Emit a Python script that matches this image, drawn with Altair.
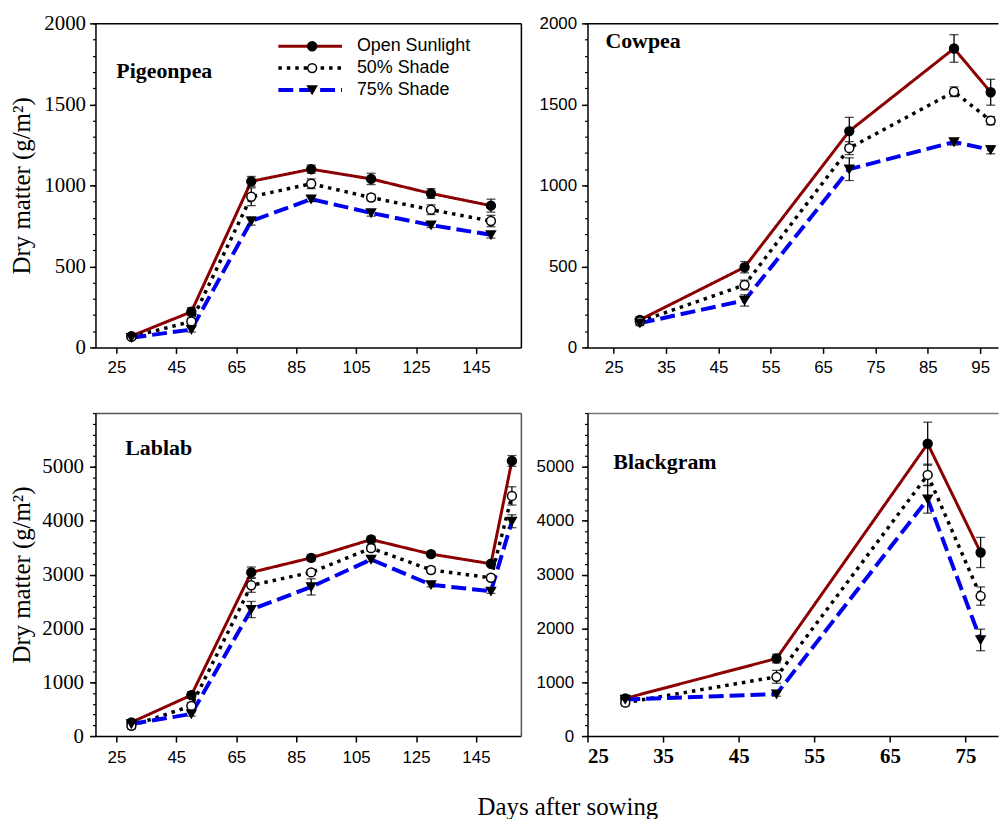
import altair as alt
import pandas as pd

# ---------------- data ----------------
series = ["Open Sunlight", "50% Shade", "75% Shade"]
marker_keys = ["Open Sunlight marker", "50% Shade marker", "75% Shade marker"]
line_colors = ["#8b0000", "#000000", "#0000ee"]
line_widths = [3, 4, 3]
dash_patterns = [[1, 0], [3.5, 5], [15, 6]]
marker_shapes = ["circle", "circle", "triangle-down"]
marker_fills = ["black", "white", "black"]
marker_strokes = ["black", "black", "black"]

pigeonpea_days = [30, 50, 70, 90, 110, 130, 150]
pigeonpea_open = [70, 220, 1025, 1100, 1040, 950, 875]
pigeonpea_open_err = [15, 25, 30, 25, 35, 30, 40]
pigeonpea_s50 = [65, 160, 930, 1010, 925, 850, 780]
pigeonpea_s50_err = [10, 20, 55, 30, 20, 30, 35]
pigeonpea_s75 = [60, 110, 780, 915, 830, 755, 695]
pigeonpea_s75_err = [10, 15, 25, 15, 20, 15, 20]

cowpea_days = [30, 50, 70, 90, 97]
cowpea_open = [170, 495, 1335, 1845, 1575]
cowpea_open_err = [20, 35, 85, 85, 80]
cowpea_s50 = [160, 385, 1230, 1578, 1400]
cowpea_s50_err = [15, 30, 40, 30, 25]
cowpea_s75 = [150, 290, 1100, 1268, 1220]
cowpea_s75_err = [15, 35, 70, 20, 25]

lablab_days = [30, 50, 70, 90, 110, 130, 150, 157]
lablab_open = [255, 760, 3040, 3310, 3650, 3380, 3200, 5110]
lablab_open_err = [40, 60, 100, 60, 60, 50, 40, 100]
lablab_s50 = [190, 560, 2800, 3040, 3490, 3085, 2940, 4460]
lablab_s50_err = [60, 60, 130, 50, 60, 60, 50, 170]
lablab_s75 = [225, 410, 2350, 2770, 3280, 2810, 2690, 3990]
lablab_s75_err = [30, 40, 150, 150, 40, 40, 40, 120]

blackgram_days = [30, 50, 70, 77]
blackgram_open = [700, 1440, 5430, 3410]
blackgram_open_err = [50, 80, 400, 280]
blackgram_s50 = [620, 1100, 4850, 2600]
blackgram_s50_err = [60, 120, 200, 170]
blackgram_s75 = [680, 780, 4400, 1785]
blackgram_s75_err = [40, 40, 260, 200]


def make_df(days, vals, errs):
    rows = []
    for name, key, v, e in zip(series, marker_keys, vals, errs):
        for d, y, s in zip(days, v, e):
            rows.append({"Day": d, "Treatment": name, "Marker": key,
                         "Value": y, "Lo": y - s, "Hi": y + s})
    return pd.DataFrame(rows)


pigeonpea_df = make_df(pigeonpea_days, [pigeonpea_open, pigeonpea_s50, pigeonpea_s75],
                       [pigeonpea_open_err, pigeonpea_s50_err, pigeonpea_s75_err])
cowpea_df = make_df(cowpea_days, [cowpea_open, cowpea_s50, cowpea_s75],
                    [cowpea_open_err, cowpea_s50_err, cowpea_s75_err])
lablab_df = make_df(lablab_days, [lablab_open, lablab_s50, lablab_s75],
                    [lablab_open_err, lablab_s50_err, lablab_s75_err])
blackgram_df = make_df(blackgram_days, [blackgram_open, blackgram_s50, blackgram_s75],
                       [blackgram_open_err, blackgram_s50_err, blackgram_s75_err])

SERIF = "Liberation Serif"
SANS = "Liberation Sans"


def panel(df, name, xdom, xticks, ydom, yticks, yminor, w, h,
          ylab_font, ylab_size, ylab_pad, xlab_font, xlab_size, xlab_weight, xlab_pad,
          ytitle, frame_color, right_frame, show_legend, tdx, tdy):
    base = alt.Chart(df)
    xs = alt.Scale(domain=xdom, nice=False, zero=False)
    ys = alt.Scale(domain=ydom, nice=False, zero=False)

    # frame (top border) + minor y ticks
    guide = base.mark_point(opacity=0).encode(
        x=alt.X("Day:Q", scale=xs,
                axis=alt.Axis(orient="top", labels=False, ticks=False, domain=True,
                              domainColor=frame_color, domainWidth=1.5, title=None, grid=False)),
        y=alt.Y("Value:Q", scale=ys,
                axis=alt.Axis(orient="left", values=yminor, labels=False, domain=False,
                              tickSize=3, tickWidth=1.2, title=None, grid=False)),
    )
    layers = [guide]
    if right_frame:
        rframe = base.mark_point(opacity=0).encode(
            x=alt.X("Day:Q", scale=xs, axis=None),
            y=alt.Y("Value:Q", scale=ys,
                    axis=alt.Axis(orient="right", labels=False, ticks=False, domain=True,
                                  domainColor=frame_color, domainWidth=1.5, title=None, grid=False)),
        )
        layers.append(rframe)

    if ytitle:
        yaxis = alt.Axis(orient="left", values=yticks, format="d", labelFont=ylab_font,
                         labelFontSize=ylab_size, labelPadding=ylab_pad, tickSize=6,
                         title=ytitle, titleFont=SERIF, titleFontSize=25,
                         titleFontWeight="normal", titlePadding=11,
                         minExtent=50, maxExtent=50, grid=False)
    else:
        yaxis = alt.Axis(orient="left", values=yticks, format="d", labelFont=ylab_font,
                         labelFontSize=ylab_size, labelPadding=ylab_pad, tickSize=6,
                         title=None, grid=False)
    xaxis = alt.Axis(orient="bottom", values=xticks, format="d", labelFont=xlab_font,
                     labelFontSize=xlab_size, labelFontWeight=xlab_weight,
                     labelPadding=xlab_pad, tickSize=6, title=None, grid=False)

    if show_legend:
        leg_line = alt.Legend(orient="none", legendX=182, legendY=14, title=None,
                              symbolType="stroke", symbolSize=4096, symbolStrokeWidth=4,
                              labelFont=SANS, labelFontSize=18, labelOffset=13,
                              labelColor="black", rowPadding=4, padding=0, clipHeight=18)
        leg_pt = alt.Legend(orient="none", legendX=209, legendY=14, title=None,
                            symbolSize=80, symbolStrokeWidth=1.5,
                            labelFont=SANS, labelFontSize=18, labelExpr="''",
                            rowPadding=4, padding=0, clipHeight=18)
    else:
        leg_line = None
        leg_pt = None

    X = alt.X("Day:Q", scale=xs, axis=None)
    line = base.mark_line().encode(
        x=X,
        y=alt.Y("Value:Q", scale=ys, axis=None),
        color=alt.Color("Treatment:N", scale=alt.Scale(domain=series, range=line_colors),
                        legend=leg_line),
        strokeDash=alt.StrokeDash("Treatment:N",
                                  scale=alt.Scale(domain=series, range=dash_patterns),
                                  legend=leg_line),
        strokeWidth=alt.StrokeWidth("Treatment:N",
                                    scale=alt.Scale(domain=series, range=line_widths),
                                    legend=None),
    )
    bars = base.mark_rule(color="black", strokeWidth=1.3).encode(
        x=alt.X("Day:Q", scale=xs, axis=xaxis),
        y=alt.Y("Lo:Q", scale=ys, axis=yaxis),
        y2="Hi:Q",
    )
    cap_lo = base.mark_tick(orient="horizontal", color="black", size=9, thickness=1.3).encode(
        x=X, y=alt.Y("Lo:Q", scale=ys, axis=None))
    cap_hi = base.mark_tick(orient="horizontal", color="black", size=9, thickness=1.3).encode(
        x=X, y=alt.Y("Hi:Q", scale=ys, axis=None))
    pts = base.mark_point(filled=True, size=80, strokeWidth=1.5, opacity=1).encode(
        x=X,
        y=alt.Y("Value:Q", scale=ys, axis=None),
        shape=alt.Shape("Marker:N", scale=alt.Scale(domain=marker_keys, range=marker_shapes),
                        legend=leg_pt),
        fill=alt.Fill("Marker:N", scale=alt.Scale(domain=marker_keys, range=marker_fills),
                      legend=leg_pt),
        stroke=alt.Stroke("Marker:N", scale=alt.Scale(domain=marker_keys, range=marker_strokes),
                          legend=leg_pt),
    )
    layers += [line, bars, cap_lo, cap_hi, pts]
    return alt.layer(*layers).resolve_axis(x="independent", y="independent").properties(
        width=w, height=h,
        title=alt.TitleParams(name, anchor="start", frame="group", orient="none", offset=0,
                              dx=tdx, dy=tdy, font=SERIF, fontSize=22, fontWeight="bold",
                              color="black", baseline="alphabetic"),
    )


p1 = panel(pigeonpea_df, "Pigeonpea", [18, 160], [25, 45, 65, 85, 105, 125, 145],
           [0, 2000], [0, 500, 1000, 1500, 2000], list(range(0, 2001, 100)), 428, 326,
           SERIF, 21, 4, SANS, 17, "normal", 6,
           "Dry matter (g/m²)", "black", True, True, 21, 55)
p2 = panel(cowpea_df, "Cowpea", [20, 98.4], [25, 35, 45, 55, 65, 75, 85, 95],
           [0, 2000], [0, 500, 1000, 1500, 2000], list(range(0, 2001, 100)), 413, 326,
           SANS, 17, 5, SANS, 17, "normal", 6,
           None, "black", False, False, 18, 25)
p3 = panel(lablab_df, "Lablab", [18, 160], [25, 45, 65, 85, 105, 125, 145],
           [0, 6000], [0, 1000, 2000, 3000, 4000, 5000], list(range(0, 6001, 200)), 428, 325,
           SERIF, 21, 6, SANS, 17, "normal", 8,
           "Dry matter (g/m²)", "#555555", True, False, 30, 42)
p4 = panel(blackgram_df, "Blackgram", [25, 79.3], [25, 35, 45, 55, 65, 75],
           [0, 6000], [0, 1000, 2000, 3000, 4000, 5000], list(range(0, 6001, 200)), 413, 325,
           SANS, 17, 8, SERIF, 21, "bold", 4,
           None, "#777777", False, False, 26, 56)

chart = alt.concat(
    p1, p2, p3, p4, columns=2, spacing={"row": 66, "column": 67}, bounds="flush"
).resolve_scale(
    color="independent", strokeDash="independent", shape="independent", fill="independent",
    stroke="independent", strokeWidth="independent"
).properties(
    padding={"left": 2, "top": 2, "right": 0, "bottom": 0},
    title=alt.TitleParams("Days after sowing", orient="bottom", anchor="middle",
                          font=SERIF, fontSize=25, fontWeight="normal", color="black",
                          dx=64, offset=48, baseline="alphabetic"),
).configure_view(
    strokeWidth=0
).configure_axis(
    domainColor="black", domainWidth=1.5, tickColor="black", tickWidth=1.5,
    labelColor="black", titleColor="black", grid=False
)

chart.save("out.html", embed_options={"renderer": "svg", "actions": False})
